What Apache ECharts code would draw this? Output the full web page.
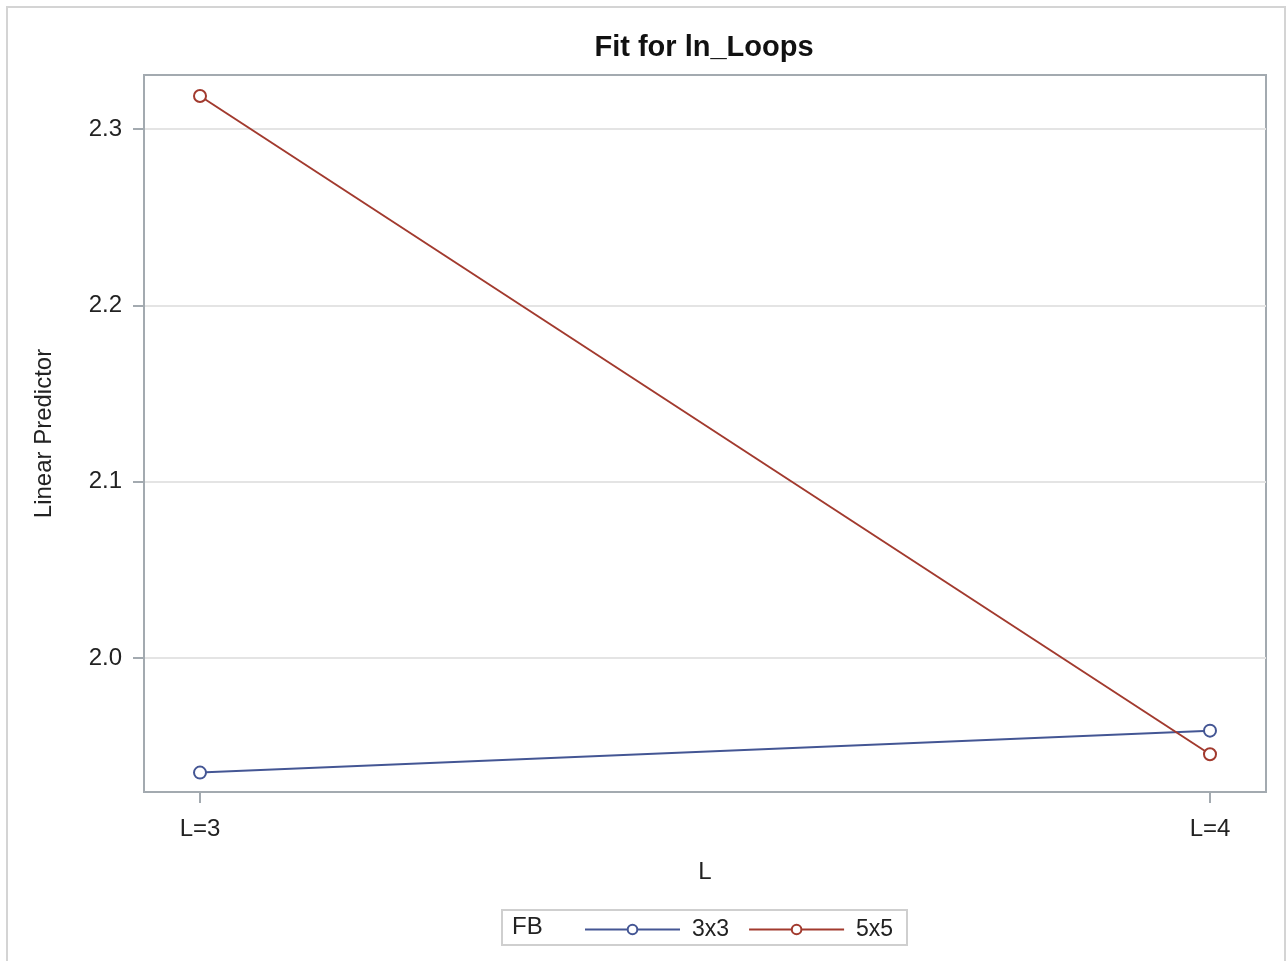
<!DOCTYPE html>
<html>
<head>
<meta charset="utf-8">
<title>Fit for ln_Loops</title>
<script src="https://cdn.jsdelivr.net/npm/echarts@6/dist/echarts.min.js"></script>
<style>
  html, body { margin: 0; padding: 0; background: #fff; }
  #chart { width: 1288px; height: 961px; }
</style>
</head>
<body>
<div id="chart"></div>
<script>
// Levels of L along the horizontal axis
const categories = ['L=3', 'L=4'];
// Fitted linear predictor for each FB level
const series3x3 = [1.9350, 1.9588];
const series5x5 = [2.3187, 1.9454];
const seriesNames = ['3x3', '5x5'];
// Labelled ticks on the vertical axis
const yTicks = [2.0, 2.1, 2.2, 2.3];

const font = 'Liberation Sans, Arial, sans-serif';
const textColor = '#222';
const frameColor = '#a3aab0';
const colors = ['#445694', '#a23a2e'];

const toPoints = vals => vals.map((v, i) => [i, v]);

const makeSeries = (name, vals, color) => ({
  name: name,
  type: 'line',
  data: toPoints(vals),
  symbol: 'emptyCircle',
  symbolSize: 12,
  showSymbol: true,
  showAllSymbol: true,
  color: color,
  lineStyle: { color: color, width: 2 },
  itemStyle: { color: color, borderWidth: 2 },
  emphasis: { disabled: true },
  animation: false
});

const chart = echarts.init(document.getElementById('chart'), null, { renderer: 'canvas' });

chart.setOption({
  backgroundColor: '#fff',
  animation: false,
  title: {
    text: 'Fit for ln_Loops',
    left: 699,
    textAlign: 'center',
    top: 28,
    textStyle: { fontFamily: font, fontWeight: 'bold', fontSize: 29, color: '#111' }
  },
  grid: {
    left: 144, right: 22, top: 75, bottom: 169,
    show: true, borderColor: frameColor, borderWidth: 2, backgroundColor: 'transparent'
  },
  xAxis: {
    type: 'value',
    min: -0.05545,
    max: 1.05545,
    name: 'L',
    nameLocation: 'middle',
    nameGap: 68,
    nameTextStyle: { fontFamily: font, fontSize: 24, color: textColor },
    axisLine: { show: true, onZero: false, lineStyle: { color: frameColor, width: 2 } },
    axisTick: { show: true, length: 11, customValues: [0, 1], lineStyle: { color: frameColor, width: 2 } },
    axisLabel: {
      customValues: [0, 1],
      formatter: v => categories[Math.round(v)],
      fontFamily: font, fontSize: 24, color: textColor, margin: 25
    },
    splitLine: { show: false }
  },
  yAxis: {
    type: 'value',
    min: 1.9240,
    max: 2.3306,
    name: 'Linear Predictor',
    nameLocation: 'middle',
    nameGap: 88,
    nameTextStyle: { fontFamily: font, fontSize: 24, color: textColor },
    axisLine: { show: true, onZero: false, lineStyle: { color: frameColor, width: 2 } },
    axisTick: { show: true, length: 11, customValues: yTicks, lineStyle: { color: frameColor, width: 2 } },
    axisLabel: {
      customValues: yTicks,
      formatter: v => v.toFixed(1),
      fontFamily: font, fontSize: 24, color: textColor, margin: 22
    },
    splitLine: { show: true, lineStyle: { color: '#e4e4e4', width: 2 } }
  },
  legend: {
    data: seriesNames,
    left: 579,
    top: 913,
    itemWidth: 95,
    itemHeight: 12,
    itemGap: 19,
    textStyle: { fontFamily: font, fontSize: 23, color: textColor, padding: [0, 0, 0, 7] },
    selectedMode: false
  },
  graphic: [
    {
      type: 'rect',
      shape: { x: 7, y: 7, width: 1278, height: 970 },
      style: { fill: 'none', stroke: '#d4d4d4', lineWidth: 2 },
      silent: true
    },
    {
      type: 'rect',
      shape: { x: 502, y: 910, width: 405, height: 35 },
      style: { fill: 'none', stroke: '#cfcfcf', lineWidth: 2 },
      silent: true
    },
    {
      type: 'text',
      left: 512,
      top: 915,
      style: { text: 'FB', fontFamily: font, fontSize: 24, fill: textColor }
    }
  ],
  series: [
    makeSeries(seriesNames[0], series3x3, colors[0]),
    makeSeries(seriesNames[1], series5x5, colors[1])
  ]
});
</script>
</body>
</html>
